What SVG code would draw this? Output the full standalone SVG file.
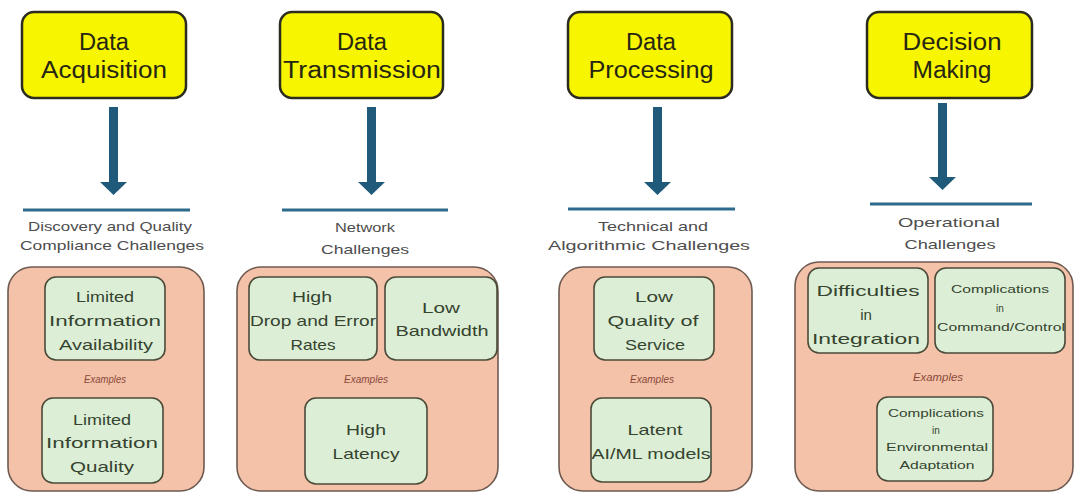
<svg xmlns="http://www.w3.org/2000/svg" width="1075" height="495" viewBox="0 0 1075 495">
<style>
.hdr{fill:#f8f500;stroke:#2b2b1f;stroke-width:2.5}
.ht{font-family:"Liberation Sans",Arial,sans-serif;font-size:23px;fill:#262612;text-anchor:middle}
.cap{font-family:"Liberation Sans",Arial,sans-serif;font-size:13px;fill:#4d4d4d;text-anchor:middle}
.grp{fill:#f4c1a9;stroke:#6e5a50;stroke-width:1.6}
.box{fill:#dcefd6;stroke:#4a4a38;stroke-width:1.6}
.bt{font-family:"Liberation Sans",Arial,sans-serif;font-size:15px;fill:#35432f;text-anchor:middle}
.st{font-family:"Liberation Sans",Arial,sans-serif;font-size:10px;fill:#35432f;text-anchor:middle}
.ex{font-family:"Liberation Sans",Arial,sans-serif;font-size:10px;font-style:italic;fill:#8a4a3a;text-anchor:middle}
.arr{fill:#1f5a7a}
.bar{stroke:#2d6a8c;stroke-width:3}
</style>
<rect width="1075" height="495" fill="#fff"/>

<g id="connectors">
<path class="arr" d="M109,107 H118 V182 H127 L113.5,195 L100,182 H109 Z"/>
<path class="arr" d="M367,107 H376 V182 H385 L371.5,195 L358,182 H367 Z"/>
<path class="arr" d="M653,107 H662 V182 H671 L657.5,195 L644,182 H653 Z"/>
<path class="arr" d="M938,103 H947 V177 H956 L942.5,190 L929,177 H938 Z"/>
<line class="bar" x1="23" y1="210" x2="190" y2="210"/>
<line class="bar" x1="282" y1="210" x2="448" y2="210"/>
<line class="bar" x1="568" y1="209" x2="735" y2="209"/>
<line class="bar" x1="870" y1="204" x2="1032" y2="204"/>
</g>

<!-- Column 1 -->
<g id="acq">
<rect class="hdr" x="22" y="12" width="164" height="86" rx="12"/>
<text class="ht" x="104" y="50" textLength="50" lengthAdjust="spacingAndGlyphs">Data</text>
<text class="ht" x="104" y="78" textLength="126" lengthAdjust="spacingAndGlyphs">Acquisition</text>
</g>
<g id="acq-caption">
<text class="cap" x="110" y="231" textLength="164" lengthAdjust="spacingAndGlyphs">Discovery and Quality</text>
<text class="cap" x="112" y="250" textLength="184" lengthAdjust="spacingAndGlyphs">Compliance Challenges</text>
</g>
<g id="acq-group">
<rect class="grp" x="8" y="267" width="196" height="224" rx="24"/>
<text class="ex" x="105" y="383" textLength="42" lengthAdjust="spacingAndGlyphs">Examples</text>
</g>
<g id="acq-1">
<rect class="box" x="45" y="277" width="120" height="83" rx="11"/>
<text class="bt" x="105" y="302" textLength="58" lengthAdjust="spacingAndGlyphs">Limited</text>
<text class="bt" x="105" y="326" textLength="112" lengthAdjust="spacingAndGlyphs">Information</text>
<text class="bt" x="106" y="350" textLength="94" lengthAdjust="spacingAndGlyphs">Availability</text>
</g>
<g id="acq-2">
<rect class="box" x="42" y="398" width="121" height="85" rx="11"/>
<text class="bt" x="102" y="425" textLength="58" lengthAdjust="spacingAndGlyphs">Limited</text>
<text class="bt" x="102" y="448" textLength="112" lengthAdjust="spacingAndGlyphs">Information</text>
<text class="bt" x="102" y="472" textLength="64" lengthAdjust="spacingAndGlyphs">Quality</text>
</g>

<!-- Column 2 -->
<g id="trans">
<rect class="hdr" x="280" y="12" width="163" height="86" rx="12"/>
<text class="ht" x="362" y="50" textLength="50" lengthAdjust="spacingAndGlyphs">Data</text>
<text class="ht" x="362" y="78" textLength="158" lengthAdjust="spacingAndGlyphs">Transmission</text>
</g>
<g id="trans-caption">
<text class="cap" x="365" y="232" textLength="60" lengthAdjust="spacingAndGlyphs">Network</text>
<text class="cap" x="365" y="254" textLength="88" lengthAdjust="spacingAndGlyphs">Challenges</text>
</g>
<g id="trans-group">
<rect class="grp" x="237" y="267" width="261" height="224" rx="24"/>
<text class="ex" x="366" y="383" textLength="44" lengthAdjust="spacingAndGlyphs">Examples</text>
</g>
<g id="trans-1">
<rect class="box" x="249" y="277" width="128" height="83" rx="11"/>
<text class="bt" x="312" y="302" textLength="40" lengthAdjust="spacingAndGlyphs">High</text>
<text class="bt" x="313" y="326" textLength="126" lengthAdjust="spacingAndGlyphs">Drop and Error</text>
<text class="bt" x="313" y="350" textLength="45" lengthAdjust="spacingAndGlyphs">Rates</text>
</g>
<g id="trans-2">
<rect class="box" x="385" y="277" width="112" height="83" rx="11"/>
<text class="bt" x="441" y="313" textLength="38" lengthAdjust="spacingAndGlyphs">Low</text>
<text class="bt" x="442" y="336" textLength="93" lengthAdjust="spacingAndGlyphs">Bandwidth</text>
</g>
<g id="trans-3">
<rect class="box" x="305" y="398" width="122" height="86" rx="11"/>
<text class="bt" x="366" y="435" textLength="40" lengthAdjust="spacingAndGlyphs">High</text>
<text class="bt" x="366" y="459" textLength="67" lengthAdjust="spacingAndGlyphs">Latency</text>
</g>

<!-- Column 3 -->
<g id="proc">
<rect class="hdr" x="568" y="12" width="164" height="86" rx="12"/>
<text class="ht" x="651" y="50" textLength="50" lengthAdjust="spacingAndGlyphs">Data</text>
<text class="ht" x="651" y="78" textLength="125" lengthAdjust="spacingAndGlyphs">Processing</text>
</g>
<g id="proc-caption">
<text class="cap" x="653" y="231" textLength="110" lengthAdjust="spacingAndGlyphs">Technical and</text>
<text class="cap" x="649" y="250" textLength="202" lengthAdjust="spacingAndGlyphs">Algorithmic Challenges</text>
</g>
<g id="proc-group">
<rect class="grp" x="559" y="267" width="193" height="224" rx="24"/>
<text class="ex" x="652" y="383" textLength="44" lengthAdjust="spacingAndGlyphs">Examples</text>
</g>
<g id="proc-1">
<rect class="box" x="594" y="277" width="120" height="83" rx="11"/>
<text class="bt" x="654" y="302" textLength="38" lengthAdjust="spacingAndGlyphs">Low</text>
<text class="bt" x="653" y="326" textLength="91" lengthAdjust="spacingAndGlyphs">Quality of</text>
<text class="bt" x="655" y="350" textLength="60" lengthAdjust="spacingAndGlyphs">Service</text>
</g>
<g id="proc-2">
<rect class="box" x="591" y="398" width="120" height="84" rx="11"/>
<text class="bt" x="655" y="435" textLength="55" lengthAdjust="spacingAndGlyphs">Latent</text>
<text class="bt" x="651" y="459" textLength="119" lengthAdjust="spacingAndGlyphs">AI/ML models</text>
</g>

<!-- Column 4 -->
<g id="decision">
<rect class="hdr" x="867" y="12" width="165" height="86" rx="12"/>
<text class="ht" x="952" y="50" textLength="99" lengthAdjust="spacingAndGlyphs">Decision</text>
<text class="ht" x="952" y="78" textLength="79" lengthAdjust="spacingAndGlyphs">Making</text>
</g>
<g id="decision-caption">
<text class="cap" x="949" y="227" textLength="102" lengthAdjust="spacingAndGlyphs">Operational</text>
<text class="cap" x="950" y="249" textLength="91" lengthAdjust="spacingAndGlyphs">Challenges</text>
</g>
<g id="decision-group">
<rect class="grp" x="795" y="262" width="278" height="229" rx="24"/>
<text class="ex" x="938" y="381" textLength="50" lengthAdjust="spacingAndGlyphs">Examples</text>
</g>
<g id="decision-1">
<rect class="box" x="808" y="268" width="120" height="85" rx="11"/>
<text class="bt" x="868" y="296" font-size="17" textLength="103" lengthAdjust="spacingAndGlyphs">Difficulties</text>
<text class="bt" x="866" y="320" font-size="17">in</text>
<text class="bt" x="866" y="344" font-size="17" textLength="108" lengthAdjust="spacingAndGlyphs">Integration</text>
</g>
<g id="decision-2">
<rect class="box" x="935" y="268" width="130" height="85" rx="11"/>
<text class="st" x="1000" y="293" textLength="98" lengthAdjust="spacingAndGlyphs">Complications</text>
<text class="st" x="1000" y="312">in</text>
<text class="st" x="1001" y="331" textLength="128" lengthAdjust="spacingAndGlyphs">Command/Control</text>
</g>
<g id="decision-3">
<rect class="box" x="877" y="397" width="116" height="84" rx="11"/>
<text class="st" x="936" y="417" textLength="96" lengthAdjust="spacingAndGlyphs">Complications</text>
<text class="st" x="936" y="434">in</text>
<text class="st" x="937" y="451" textLength="102" lengthAdjust="spacingAndGlyphs">Environmental</text>
<text class="st" x="937" y="469" textLength="75" lengthAdjust="spacingAndGlyphs">Adaptation</text>
</g>
</svg>
